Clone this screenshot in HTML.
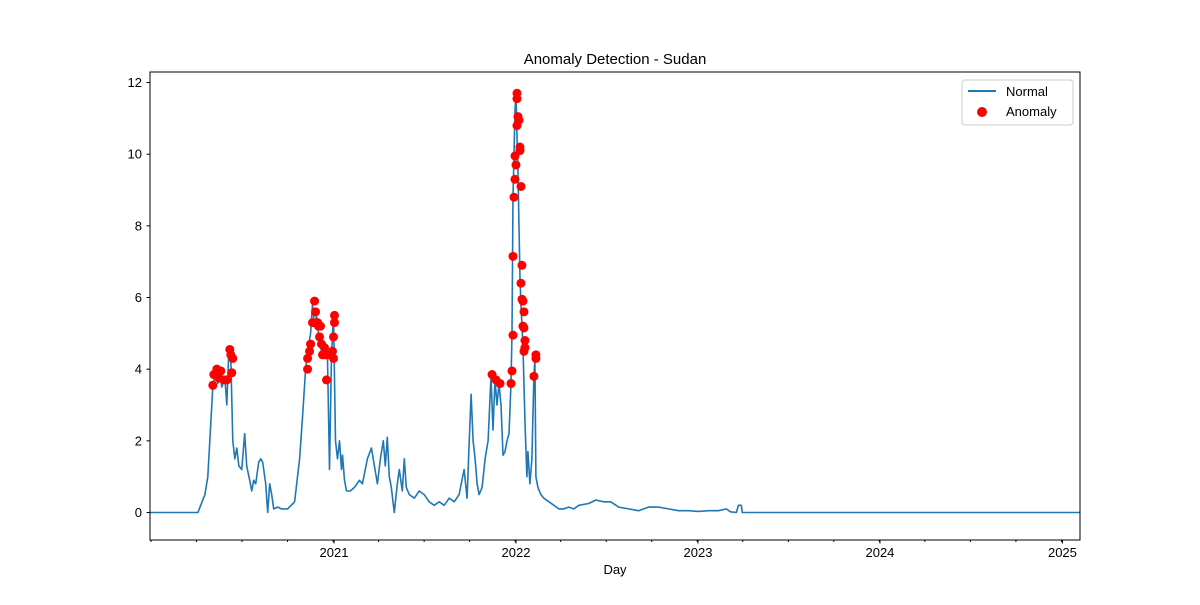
<!DOCTYPE html>
<html><head><meta charset="utf-8">
<style>
body{margin:0;background:#fff;}
svg text{font-family:"Liberation Sans","DejaVu Sans",sans-serif;fill:#000;}
</style></head>
<body>
<svg id="chart" width="1200" height="600" xmlns="http://www.w3.org/2000/svg">
<rect width="1200" height="600" fill="#fff"/>
<text x="615" y="64" font-size="15" text-anchor="middle">Anomaly Detection - Sudan</text>
<defs><clipPath id="pc"><rect x="150" y="72" width="930" height="468"/></clipPath></defs>
<g id="marks" clip-path="url(#pc)"></g>
<g id="axes"></g>
<rect x="150" y="72" width="930" height="468" fill="none" stroke="#000" stroke-width="1"/>
<text x="615" y="574" font-size="13" text-anchor="middle">Day</text>
<g>
<rect x="962" y="80" width="111" height="45" fill="#fff" stroke="#ccc" rx="3"/>
<line x1="968" y1="91" x2="996" y2="91" stroke="#1f77b4" stroke-width="2"/>
<text x="1006" y="96" font-size="13">Normal</text>
<circle cx="982" cy="112" r="5" fill="red"/>
<text x="1006" y="116" font-size="13">Anomaly</text>
</g>
</svg>
<script>
// [day since 2020-01-01, value]
const normalSeries=[[-3,0],[93,0],[107,0.5],[113,1.0],[119,2.5],[123,3.5],[129,4.0],[133,3.6],[137,3.9],[141,3.5],[147,3.8],[151,3.0],[155,4.5],[159,4.3],[163,2.0],[167,1.5],[171,1.8],[175,1.3],[181,1.2],[187,2.2],[191,1.3],[197,0.9],[201,0.6],[205,0.9],[209,0.8],[215,1.4],[219,1.5],[223,1.4],[229,0.8],[233,0.0],[237,0.8],[241,0.5],[245,0.1],[253,0.15],[261,0.1],[273,0.1],[287,0.3],[297,1.5],[303,2.7],[309,4.0],[313,4.5],[319,5.0],[323,5.8],[327,5.2],[331,5.5],[335,5.0],[341,4.5],[347,4.6],[353,4.3],[357,1.2],[361,4.4],[365,5.5],[369,2.0],[373,1.5],[377,2.0],[381,1.2],[383,1.6],[387,0.9],[391,0.6],[399,0.6],[407,0.7],[417,0.9],[423,0.8],[433,1.5],[441,1.8],[447,1.3],[453,0.8],[459,1.5],[465,2.0],[469,1.3],[473,2.1],[477,1.0],[481,0.7],[487,0.0],[493,0.8],[497,1.2],[503,0.6],[507,1.5],[511,0.7],[517,0.5],[527,0.4],[537,0.6],[547,0.5],[557,0.3],[567,0.2],[577,0.3],[587,0.2],[597,0.4],[607,0.3],[617,0.5],[627,1.2],[633,0.4],[637,1.9],[641,3.3],[645,2.0],[649,1.5],[653,0.8],[657,0.5],[663,0.7],[669,1.5],[675,2.0],[681,3.8],[685,2.3],[689,3.7],[693,3.0],[697,3.6],[701,3.0],[705,1.6],[709,1.7],[713,2.0],[717,2.2],[721,3.6],[723,5.0],[725,8.8],[727,10.0],[729,11.2],[731,11.7],[733,10.5],[735,9.5],[737,8.0],[739,6.5],[741,5.8],[743,5.2],[745,4.6],[749,2.5],[753,1.0],[755,1.7],[759,0.8],[763,1.5],[767,3.8],[769,4.3],[771,1.0],[775,0.7],[781,0.5],[787,0.4],[797,0.3],[807,0.2],[817,0.1],[827,0.1],[837,0.15],[847,0.1],[857,0.2],[877,0.25],[891,0.35],[907,0.3],[921,0.3],[937,0.15],[957,0.1],[977,0.05],[997,0.15],[1017,0.15],[1037,0.1],[1057,0.05],[1077,0.05],[1097,0.03],[1117,0.05],[1137,0.05],[1153,0.1],[1161,0.02],[1173,0],[1177,0.2],[1183,0.2],[1185,0],[1870,0]];
const anomalyPoints=[[123,3.55],[125,3.85],[131,4.0],[135,3.75],[139,3.95],[145,3.7],[151,3.7],[157,4.55],[159,4.4],[161,3.9],[163,4.3],[313,4.0],[313,4.3],[317,4.5],[319,4.7],[323,5.3],[327,5.9],[329,5.6],[333,5.3],[335,5.2],[337,4.9],[339,5.2],[341,4.7],[343,4.4],[347,4.6],[349,4.4],[351,3.7],[357,4.4],[363,4.5],[365,4.9],[367,5.3],[367,5.5],[365,4.3],[683,3.85],[691,3.7],[699,3.6],[721,3.6],[723,3.95],[725,4.95],[725,7.15],[727,8.8],[729,9.3],[729,9.95],[731,9.7],[733,10.8],[733,11.55],[733,11.7],[735,11.05],[737,10.95],[739,10.1],[739,10.2],[741,9.1],[741,6.4],[743,6.9],[743,5.95],[745,5.9],[747,5.6],[745,5.2],[747,5.15],[749,4.8],[749,4.6],[747,4.5],[767,3.8],[771,4.3],[771,4.4]];
const yTicks=[0,2,4,6,8,10,12];
const xTickLabels=["2021","2022","2023","2024","2025"];
const xTickDays=[366,731,1096,1461,1827];

const NS="http://www.w3.org/2000/svg";
const xS=d=>151.5+d*0.4986;
const yS=v=>512.5-v*35.83;
const marks=document.getElementById('marks'), axes=document.getElementById('axes');
function el(t,a,p){const e=document.createElementNS(NS,t);for(const k in a)e.setAttribute(k,a[k]);p.appendChild(e);return e;}
let d='';
normalSeries.forEach((p,i)=>{d+=(i?'L':'M')+xS(p[0]).toFixed(1)+','+yS(p[1]).toFixed(1);});
const line=el('path',{d:d,fill:'none',stroke:'#1f77b4','stroke-width':1.6,'stroke-linejoin':'round'},marks);


anomalyPoints.forEach(p=>{
  const c=el('circle',{cx:xS(p[0]),cy:yS(p[1]),r:4.5,fill:'red'},marks);
  
  
});
yTicks.forEach(v=>{
  const y=yS(v);
  const t=el('line',{x1:146.5,x2:150,y1:y,y2:y,stroke:'#000'},axes);
  
  
  const tx=el('text',{x:142,y:y+4.5,'font-size':13,'text-anchor':'end'},axes);
  tx.textContent=v;
  
  
});
xTickDays.forEach((dd,i)=>{
  const x=xS(dd);
  const t=el('line',{x1:x,x2:x,y1:540,y2:543.5,stroke:'#000'},axes);
  
  
  const tx=el('text',{x:x,y:557,'font-size':13,'text-anchor':'middle'},axes);
  tx.textContent=xTickLabels[i];
  
  
});
for(let q=0;q<21;q++){
  const dd=-1+q*91.3;
  if(xS(dd)<150||xS(dd)>1080)continue;
  const m=el('line',{x1:xS(dd),x2:xS(dd),y1:540,y2:542,stroke:'#000'},axes);
  
  
}
</script>
</body></html>
